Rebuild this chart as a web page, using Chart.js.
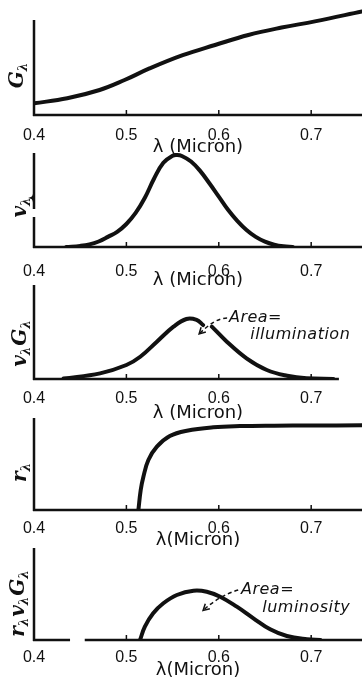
<!DOCTYPE html>
<html>
<head>
<meta charset="utf-8">
<script src="https://cdn.jsdelivr.net/npm/chart.js@4.4.1/dist/chart.umd.min.js"></script>
<style>
  html, body { margin: 0; padding: 0; background: #fff; }
  #sheet { position: relative; width: 362px; height: 681px; overflow: hidden; }
  #sheet canvas { position: absolute; left: 0; }
</style>
</head>
<body>
<div id="sheet">
  <canvas id="p1" width="362" height="158" style="top:0px"></canvas>
  <canvas id="p2" width="362" height="143" style="top:148px"></canvas>
  <canvas id="p3" width="362" height="144" style="top:280px"></canvas>
  <canvas id="p4" width="362" height="138" style="top:413px"></canvas>
  <canvas id="p5" width="362" height="138" style="top:543px"></canvas>
</div>
<script>
// axis labels
const xTicks = [0.4, 0.5, 0.6, 0.7];
const xTitles = ['λ (Micron)', 'λ (Micron)', 'λ (Micron)', 'λ(Micron)', 'λ(Micron)'];
const yNames = [['G'], ['v'], ['v', 'G'], ['r'], ['r', 'v', 'G']];
const subLetter = 'λ';
const noteIllum = ['Area=', 'illumination'];
const noteLum = ['Area=', 'luminosity'];

// G(λ) - energy curve
const lamG = [0.400, 0.436, 0.471, 0.498, 0.525, 0.561, 0.596, 0.632, 0.668, 0.704, 0.755];
const valG = [0.123, 0.176, 0.263, 0.368, 0.490, 0.630, 0.737, 0.842, 0.920, 0.985, 1.090];

// v(λ) - eye sensitivity
const lamV = [0.435, 0.450, 0.460, 0.470, 0.480, 0.490, 0.500, 0.510, 0.520, 0.530, 0.540, 0.550, 0.555,
              0.560, 0.570, 0.580, 0.590, 0.600, 0.610, 0.620, 0.630, 0.640, 0.650, 0.660, 0.670, 0.680];
const valV = [0, 0.012, 0.028, 0.060, 0.110, 0.165, 0.250, 0.370, 0.535, 0.745, 0.915, 0.993, 1.000,
              0.990, 0.930, 0.825, 0.690, 0.548, 0.405, 0.285, 0.185, 0.110, 0.058, 0.025, 0.007, 0];

// v(λ)G(λ) - broken where the arrow points in
const lamVG = [0.432, 0.4715, 0.500, 0.515, 0.533, 0.551, 0.565, 0.576, 0.583, 0.588, 0.5925, 0.6087, 0.630, 0.652, 0.674, 0.695, 0.724];
const valVG = [0.005, 0.060, 0.149, 0.237, 0.397, 0.557, 0.638, 0.628, 0.574, null, 0.557, 0.397, 0.220, 0.096, 0.035, 0.007, 0];

// r(λ) - cell response
const lamR = [0.513, 0.5155, 0.5184, 0.5238, 0.533, 0.547, 0.5654, 0.594, 0.623, 0.660, 0.700, 0.755];
const valR = [0, 0.217, 0.362, 0.543, 0.688, 0.804, 0.862, 0.899, 0.912, 0.917, 0.919, 0.920];

// r(λ)v(λ)G(λ)
const lamRVG = [0.5148, 0.520, 0.529, 0.540, 0.5546, 0.5726, 0.587, 0.6015, 0.6195, 0.6375, 0.6556, 0.6737, 0.6954, 0.710];
const valRVG = [0, 0.145, 0.290, 0.399, 0.489, 0.536, 0.525, 0.471, 0.362, 0.236, 0.116, 0.043, 0.008, 0];

const xMax = 0.755;
const ink = '#111';

// hand drawn axes, y names and the "Area =" notes
const sketch = {
  id: 'sketch',
  beforeDatasetsDraw(chart, args, o) {
    const { ctx, scales: { x, y } } = chart;
    const x0 = x.getPixelForValue(0.4);
    const yb = y.getPixelForValue(0);
    ctx.save();
    ctx.strokeStyle = ink;
    ctx.lineWidth = 2.5;
    ctx.beginPath();
    o.yRuns.forEach(([a, b]) => {
      ctx.moveTo(x0, y.getPixelForValue(a) + 1);
      ctx.lineTo(x0, y.getPixelForValue(b));
    });
    o.baseRuns.forEach(([a, b]) => {
      ctx.moveTo(x.getPixelForValue(a) - 1, yb);
      ctx.lineTo(x.getPixelForValue(b), yb);
    });
    ctx.stroke();
    if (o.brace != null) {
      const yc = y.getPixelForValue(o.brace);
      ctx.lineWidth = 1.8;
      ctx.beginPath();
      ctx.moveTo(x0, yc - 6);
      ctx.quadraticCurveTo(x0, yc - 1, x0 - 3, yc);
      ctx.quadraticCurveTo(x0, yc + 1, x0, yc + 6);
      ctx.stroke();
    }
    ctx.lineWidth = 1.5;
    ctx.beginPath();
    xTicks.slice(1).forEach(v => {
      const px = x.getPixelForValue(v);
      ctx.moveTo(px, yb);
      ctx.lineTo(px, yb - 5);
    });
    ctx.stroke();

    // rotated y name with subscript λ
    const [cx, cy] = o.nameAt;
    ctx.translate(cx, cy);
    ctx.rotate(-Math.PI / 2);
    ctx.fillStyle = ink;
    ctx.textBaseline = 'alphabetic';
    const big = 'italic bold 20px "DejaVu Serif"';
    const small = 'italic bold 12px "DejaVu Serif"';
    let w = 0;
    o.name.forEach(c => {
      ctx.font = big; w += ctx.measureText(c).width;
      ctx.font = small; w += ctx.measureText(subLetter).width + 1;
    });
    let px = -w / 2;
    o.name.forEach(c => {
      ctx.font = big; ctx.fillText(c, px, 6); px += ctx.measureText(c).width;
      ctx.font = small; ctx.fillText(subLetter, px, 10); px += ctx.measureText(subLetter).width + 1;
    });
    ctx.restore();
  },
  afterDatasetsDraw(chart, args, o) {
    if (!o.note) return;
    const { ctx, scales: { x, y } } = chart;
    const n = o.note;
    const pt = ([a, b]) => [x.getPixelForValue(a), y.getPixelForValue(b)];
    ctx.save();
    ctx.fillStyle = ink;
    ctx.strokeStyle = ink;
    ctx.font = 'italic 16px "DejaVu Sans"';
    ctx.letterSpacing = '0.5px';
    ctx.textBaseline = 'middle';
    n.text.forEach((t, i) => {
      const [tx, ty] = pt(n.textAt[i]);
      ctx.fillText(t, tx, ty);
    });
    const [p0, p1, p2] = n.leader.map(pt);
    ctx.lineWidth = 1.5;
    ctx.setLineDash([4, 3]);
    ctx.beginPath();
    ctx.moveTo(p0[0], p0[1]);
    ctx.quadraticCurveTo(p1[0], p1[1], p2[0], p2[1]);
    ctx.stroke();
    ctx.setLineDash([]);
    const ang = Math.atan2(p2[1] - p1[1], p2[0] - p1[0]);
    ctx.beginPath();
    ctx.moveTo(p2[0] - 7 * Math.cos(ang - 0.5), p2[1] - 7 * Math.sin(ang - 0.5));
    ctx.lineTo(p2[0], p2[1]);
    ctx.lineTo(p2[0] - 7 * Math.cos(ang + 0.5), p2[1] - 7 * Math.sin(ang + 0.5));
    ctx.stroke();
    ctx.restore();
  }
};

function panel(id, lam, val, p) {
  return new Chart(document.getElementById(id), {
    type: 'line',
    data: {
      datasets: [{
        data: lam.map((l, i) => ({ x: l, y: val[i] })),
        borderColor: ink,
        borderWidth: 4,
        borderCapStyle: 'round',
        borderJoinStyle: 'round',
        pointRadius: 0,
        tension: 0.4,
        spanGaps: false,
        fill: false
      }]
    },
    options: {
      responsive: false,
      animation: false,
      events: [],
      layout: { padding: { left: 34, top: p.padTop, right: 0, bottom: 0 } },
      plugins: {
        legend: { display: false },
        tooltip: { enabled: false },
        sketch: p
      },
      scales: {
        x: {
          type: 'linear',
          min: 0.4,
          max: xMax,
          grid: { display: false },
          border: { display: false },
          afterBuildTicks: s => { s.ticks = xTicks.map(v => ({ value: v })); },
          afterFit: s => { s.height = p.xh; },
          ticks: {
            padding: p.tickPad,
            maxRotation: 0,
            autoSkip: false,
            color: ink,
            font: { family: 'Liberation Sans', size: 16 },
            callback: v => v.toFixed(1)
          },
          title: {
            display: true,
            text: p.xTitle,
            padding: 0,
            color: ink,
            font: { family: 'DejaVu Sans', size: 18 }
          }
        },
        y: { display: false, min: 0, max: p.yMax }
      }
    },
    plugins: [sketch]
  });
}

panel('p1', lamG, valG, {
  padTop: 8, xh: 43, tickPad: 3, yMax: 1.126, xTitle: xTitles[0],
  yRuns: [[0, 1]], baseRuns: [[0.4, xMax]], name: yNames[0], nameAt: [17, 75]
});
panel('p2', lamV, valV, {
  padTop: 5, xh: 44, tickPad: 7, yMax: 1.022, xTitle: xTitles[1],
  yRuns: [[0, 0.326], [0.424, 1.022]], brace: 0.533, baseRuns: [[0.4, xMax]], name: yNames[1], nameAt: [20, 59]
});
panel('p3', lamVG, valVG, {
  padTop: 5, xh: 45, tickPad: 2, yMax: 1, xTitle: xTitles[2],
  yRuns: [[0, 1]], baseRuns: [[0.4, 0.73]], name: yNames[2], nameAt: [20, 63],
  note: { text: noteIllum, textAt: [[0.611, 0.655], [0.634, 0.468]], leader: [[0.609, 0.649], [0.596, 0.649], [0.5787, 0.479]] }
});
panel('p4', lamR, valR, {
  padTop: 5, xh: 41, tickPad: 1, yMax: 1, xTitle: xTitles[3],
  yRuns: [[0, 1]], baseRuns: [[0.4, xMax]], name: yNames[3], nameAt: [20, 59]
});
panel('p5', lamRVG, valRVG, {
  padTop: 5, xh: 41, tickPad: 0, yMax: 1, xTitle: xTitles[4],
  yRuns: [[0, 1]], baseRuns: [[0.4, 0.439], [0.456, xMax]], name: yNames[4], nameAt: [18, 60],
  note: { text: noteLum, textAt: [[0.624, 0.543], [0.647, 0.348]], leader: [[0.621, 0.543], [0.600, 0.48], [0.583, 0.321]] }
});
</script>
</body>
</html>
